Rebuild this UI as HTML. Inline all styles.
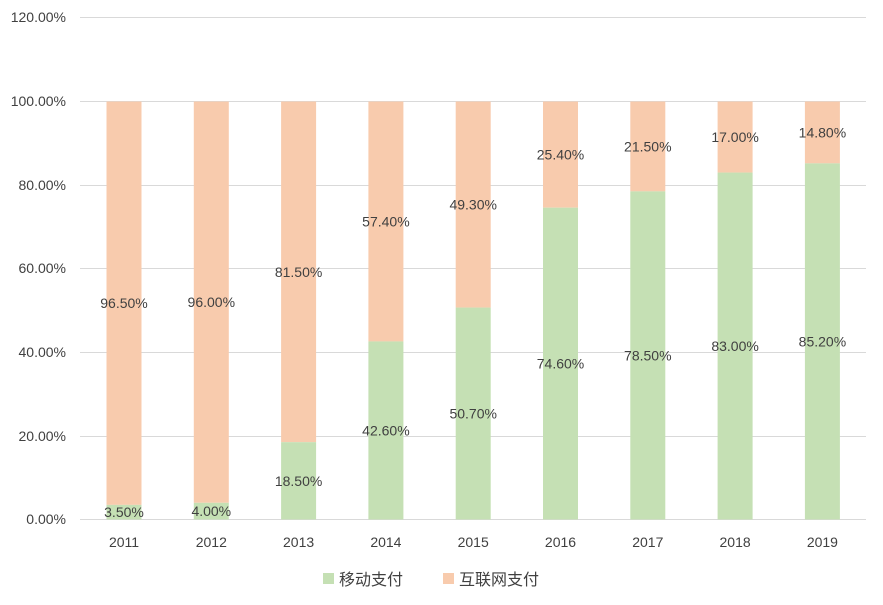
<!DOCTYPE html>
<html><head><meta charset="utf-8"><style>
body{margin:0;background:#fff;}
svg text{font-family:"Liberation Sans","Noto Sans CJK SC",sans-serif;fill:#404040;}
</style></head><body>
<svg width="883" height="600" xmlns="http://www.w3.org/2000/svg">
<g stroke="#d9d9d9" stroke-width="1">
<line x1="80" x2="866" y1="17.5" y2="17.5"/>
<line x1="80" x2="866" y1="101.5" y2="101.5"/>
<line x1="80" x2="866" y1="185.5" y2="185.5"/>
<line x1="80" x2="866" y1="268.5" y2="268.5"/>
<line x1="80" x2="866" y1="352.5" y2="352.5"/>
<line x1="80" x2="866" y1="436.5" y2="436.5"/>
<line x1="80" x2="866" y1="519.5" y2="519.5"/>
</g>
<g font-size="14" text-anchor="end">
<text x="66" y="22">120.00%</text>
<text x="66" y="106">100.00%</text>
<text x="66" y="190">80.00%</text>
<text x="66" y="273">60.00%</text>
<text x="66" y="357">40.00%</text>
<text x="66" y="441">20.00%</text>
<text x="66" y="524">0.00%</text>
</g>
<g fill="#f8cbad">
<rect x="106.5" y="101.5" width="35" height="403.37"/>
<rect x="193.8" y="101.5" width="35" height="401.28"/>
<rect x="281.1" y="101.5" width="35" height="340.67"/>
<rect x="368.4" y="101.5" width="35" height="239.93"/>
<rect x="455.7" y="101.5" width="35" height="206.07"/>
<rect x="543" y="101.5" width="35" height="106.17"/>
<rect x="630.3" y="101.5" width="35" height="89.87"/>
<rect x="717.6" y="101.5" width="35" height="71.06"/>
<rect x="804.9" y="101.5" width="35" height="61.86"/>
</g>
<g fill="#c5e0b4">
<rect x="106.5" y="504.87" width="35" height="14.63"/>
<rect x="193.8" y="502.78" width="35" height="16.72"/>
<rect x="281.1" y="442.17" width="35" height="77.33"/>
<rect x="368.4" y="341.43" width="35" height="178.07"/>
<rect x="455.7" y="307.57" width="35" height="211.93"/>
<rect x="543" y="207.67" width="35" height="311.83"/>
<rect x="630.3" y="191.37" width="35" height="328.13"/>
<rect x="717.6" y="172.56" width="35" height="346.94"/>
<rect x="804.9" y="163.36" width="35" height="356.14"/>
</g>
<g font-size="14" text-anchor="middle">
<text x="124" y="517.2">3.50%</text><text x="124" y="308.2">96.50%</text><text x="124" y="547">2011</text>
<text x="211.3" y="516.1">4.00%</text><text x="211.3" y="307.1">96.00%</text><text x="211.3" y="547">2012</text>
<text x="298.6" y="485.8">18.50%</text><text x="298.6" y="276.8">81.50%</text><text x="298.6" y="547">2013</text>
<text x="385.9" y="435.5">42.60%</text><text x="385.9" y="226.5">57.40%</text><text x="385.9" y="547">2014</text>
<text x="473.2" y="418.5">50.70%</text><text x="473.2" y="209.5">49.30%</text><text x="473.2" y="547">2015</text>
<text x="560.5" y="368.6">74.60%</text><text x="560.5" y="159.6">25.40%</text><text x="560.5" y="547">2016</text>
<text x="647.8" y="360.4">78.50%</text><text x="647.8" y="151.4">21.50%</text><text x="647.8" y="547">2017</text>
<text x="735.1" y="351">83.00%</text><text x="735.1" y="142">17.00%</text><text x="735.1" y="547">2018</text>
<text x="822.4" y="346.4">85.20%</text><text x="822.4" y="137.4">14.80%</text><text x="822.4" y="547">2019</text>
</g>
<rect x="323" y="573" width="11" height="11" fill="#c5e0b4"/>
<text x="339" y="585" font-size="16">移动支付</text>
<rect x="443" y="573" width="11" height="11" fill="#f8cbad"/>
<text x="459" y="585" font-size="16">互联网支付</text>
</svg>
</body></html>
